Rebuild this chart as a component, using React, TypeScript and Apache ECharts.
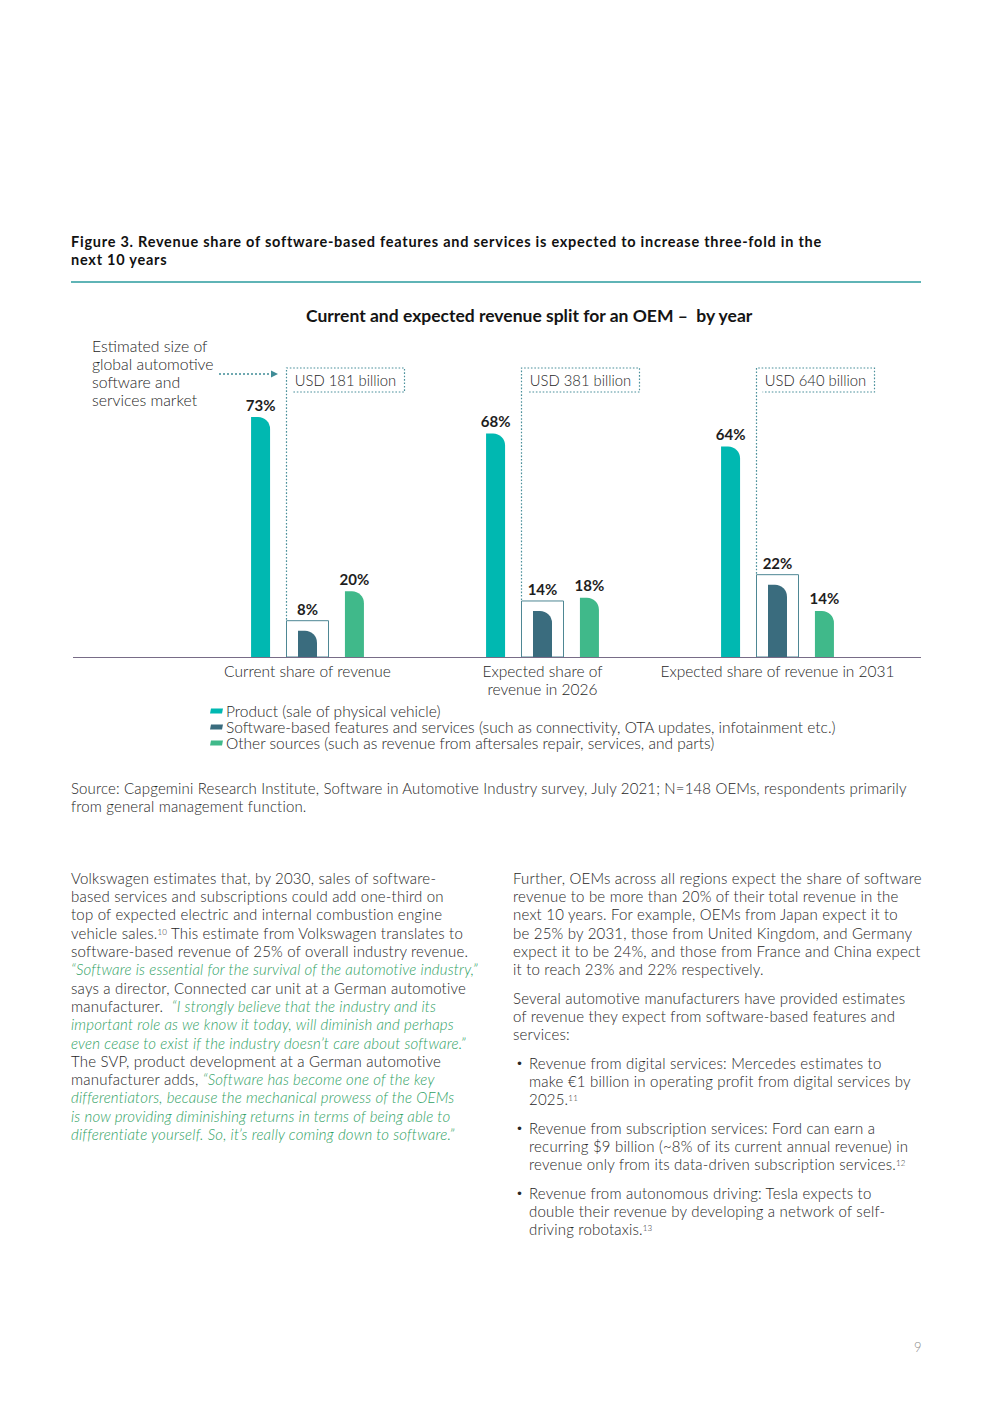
import React, { useEffect, useRef } from "react";
import * as echarts from "echarts";

const categories = [
  "Current share of revenue",
  "Expected share of\nrevenue in 2026",
  "Expected share of revenue in 2031",
];
const productShare = [73, 68, 64];
const softwareShare = [8, 14, 22];
const otherShare = [20, 18, 14];
const marketSizeUSDbn = [181, 381, 640];
const seriesNames = [
  "Product (sale of physical vehicle)",
  "Software-based features and services (such as connectivity, OTA updates, infotainment etc.)",
  "Other sources (such as revenue from aftersales repair, services, and parts)",
];
const seriesColors = ["#00b8b1", "#3a6c7e", "#40b98a"];
const annotationLines = [
  "Estimated size of",
  "global automotive",
  "software and",
  "services market",
];

const FONT = "Lato, 'Noto Sans', sans-serif";
const TEXT = "#262626";
const GREEN = "#2f9f64";

const leftLines: Array<Array<{ t: string; q?: boolean; sup?: string }>> = [
  [{ t: "Volkswagen estimates that, by 2030, sales of software-" }],
  [{ t: "based services and subscriptions could add one-third on" }],
  [{ t: "top of expected electric and internal combustion engine" }],
  [{ t: "vehicle sales.", sup: "10" }, { t: " This estimate from Volkswagen translates to" }],
  [{ t: "software-based revenue of 25% of overall industry revenue." }],
  [{ t: "\u201cSoftware is essential for the survival of the automotive industry,\u201d", q: true }],
  [{ t: "says a director, Connected car unit at a German automotive" }],
  [{ t: "manufacturer.  " }, { t: "\u201cI strongly believe that the industry and its", q: true }],
  [{ t: "important role as we know it today, will diminish and perhaps", q: true }],
  [{ t: "even cease to exist if the industry doesn\u2019t care about software.\u201d", q: true }],
  [{ t: "The SVP, product development at a German automotive" }],
  [{ t: "manufacturer adds, " }, { t: "\u201cSoftware has become one of the key", q: true }],
  [{ t: "differentiators, because the mechanical prowess of the OEMs", q: true }],
  [{ t: "is now providing diminishing returns in terms of being able to", q: true }],
  [{ t: "differentiate yourself. So, it\u2019s really coming down to software.\u201d", q: true }],
];

const rightPara1 = [
  "Further, OEMs across all regions expect the share of software",
  "revenue to be more than 20% of their total revenue in the",
  "next 10 years. For example, OEMs from Japan expect it to",
  "be 25% by 2031, those from United Kingdom, and Germany",
  "expect it to be 24%, and those from France and China expect",
  "it to reach 23% and 22% respectively.",
];
const rightPara2 = [
  "Several automotive manufacturers have provided estimates",
  "of revenue they expect from software-based features and",
  "services:",
];
const bullets: Array<{ lines: string[]; sup: string; top: number }> = [
  {
    lines: [
      "Revenue from digital services: Mercedes estimates to",
      "make \u20ac1 billion in operating profit from digital services by",
      "2025.",
    ],
    sup: "11",
    top: 1063,
  },
  {
    lines: [
      "Revenue from subscription services: Ford can earn a",
      "recurring $9 billion (~8% of its current annual revenue) in",
      "revenue only from its data-driven subscription services.",
    ],
    sup: "12",
    top: 1128,
  },
  {
    lines: [
      "Revenue from autonomous driving: Tesla expects to",
      "double their revenue by developing a network of self-",
      "driving robotaxis.",
    ],
    sup: "13",
    top: 1193,
  },
];

const LH = 18.3;
const FS = 15;
const LS = "0.2px";

function Lines({
  lines,
  left,
  centerTop,
}: {
  lines: Array<Array<{ t: string; q?: boolean; sup?: string }>>;
  left: number;
  centerTop: number;
}) {
  return (
    <div
      style={{
        position: "absolute",
        left,
        top: centerTop - LH / 2,
        fontFamily: FONT,
        fontWeight: 300,
        fontSize: FS,
        letterSpacing: LS,
        lineHeight: LH + "px",
        color: TEXT,
        whiteSpace: "pre",
      }}
    >
      {lines.map((ln, i) => (
        <div key={i} style={{ height: LH }}>
          {ln.map((s, j) => (
            <span
              key={j}
              style={s.q ? { color: GREEN, fontStyle: "italic" } : undefined}
            >
              {s.t}
              {s.sup ? (
                <sup style={{ fontSize: 8, lineHeight: 0, verticalAlign: "4px" }}>{s.sup}</sup>
              ) : null}
            </span>
          ))}
        </div>
      ))}
    </div>
  );
}

const plain = (arr: string[]) => arr.map((t) => [{ t }]);

export default function App() {
  const ref = useRef<HTMLDivElement>(null);

  useEffect(() => {
    if (!ref.current) return;
    const chart = echarts.init(ref.current, undefined, { renderer: "svg" });
    const labelBase = {
      show: true,
      position: "top" as const,
      formatter: "{c}%",
      fontSize: 15,
      fontWeight: "bold" as const,
      fontFamily: FONT,
      color: "#1e1e1e",
    };
    const option: any = {
      animation: false,
      title: {
        text: "Current and expected revenue split for an OEM \u2013  by year",
        left: 301,
        top: 301,
        textStyle: { fontSize: 17.5, fontWeight: "bold", fontFamily: FONT, color: "#141414" },
      },
      legend: {
        orient: "vertical",
        left: 205,
        top: 698,
        itemGap: 0,
        itemWidth: 13,
        itemHeight: 5,
        icon: "path://M1,0 L13,0 L12,5 L0,5 Z",
        data: seriesNames,
        selectedMode: false,
        textStyle: {
          fontSize: 15.5,
          lineHeight: 15,
          fontFamily: FONT,
          fontWeight: 300,
          color: TEXT,
          padding: [0, 0, 0, -2],
        },
      },
      grid: { left: 190, right: 97, top: 394, bottom: 746 },
      xAxis: {
        type: "category",
        data: categories,
        axisLine: { show: false },
        axisTick: { show: false },
        axisLabel: {
          margin: 5,
          fontSize: 15.5,
          lineHeight: 18,
          fontFamily: FONT,
          fontWeight: 300,
          color: TEXT,
          interval: 0,
        },
      },
      yAxis: {
        type: "value",
        min: 0,
        max: 80,
        show: false,
        splitLine: { show: false },
      },
      graphic: [
        {
          type: "line",
          shape: { x1: 73, y1: 657.5, x2: 921, y2: 657.5 },
          style: { stroke: "#786c87", lineWidth: 1 },
          z: 10,
        },
        {
          type: "line",
          shape: { x1: 219, y1: 374, x2: 272, y2: 374 },
          style: { stroke: "#3f8c97", lineWidth: 1.3, lineDash: [2, 2] },
        },
        {
          type: "polygon",
          shape: { points: [[271, 370.5], [278, 374], [271, 377.5]] },
          style: { fill: "#3f8c97" },
        },
        ...annotationLines.map((t, i) => ({
          type: "text",
          x: 92,
          y: 345 + i * 18,
          style: {
            text: t,
            fontSize: 15.8,
            fontFamily: FONT,
            fontWeight: 300,
            fill: TEXT,
            verticalAlign: "middle",
          },
        })),
      ],
      series: [
        {
          name: seriesNames[0],
          type: "bar",
          data: productShare,
          barWidth: 19,
          barGap: "147%",
          itemStyle: { color: seriesColors[0], borderRadius: [0, 12, 0, 0] },
          label: { ...labelBase, distance: 5 },
        },
        {
          name: seriesNames[1],
          type: "bar",
          data: softwareShare,
          barWidth: 19,
          barGap: "147%",
          itemStyle: { color: seriesColors[1], borderRadius: [0, 12, 0, 0] },
          label: { ...labelBase, distance: 14 },
        },
        {
          name: seriesNames[2],
          type: "bar",
          data: otherShare,
          barWidth: 19,
          barGap: "147%",
          itemStyle: { color: seriesColors[2], borderRadius: [0, 12, 0, 0] },
          label: { ...labelBase, distance: 5 },
        },
        {
          name: "marketSize",
          type: "custom",
          data: softwareShare.map((v, i) => [i, v, marketSizeUSDbn[i]]),
          z: 1,
          renderItem: (params: any, api: any) => {
            const i = api.value(0);
            const v = api.value(1);
            const size = api.value(2);
            const base = api.coord([i, 0]);
            const top = api.coord([i, v]);
            const cx = base[0];
            const boxLeft = cx - 21;
            const boxTop = top[1] - 10;
            const labTop = params.coordSys.y - 26;
            const labRight = boxLeft + 118;
            return {
              type: "group",
              children: [
                {
                  type: "rect",
                  shape: { x: boxLeft, y: boxTop, width: 42, height: base[1] - boxTop },
                  style: { fill: "none", stroke: "#4e8794", lineWidth: 1 },
                },
                {
                  type: "polyline",
                  shape: {
                    points: [
                      [boxLeft, boxTop - 1],
                      [boxLeft, labTop],
                      [labRight, labTop],
                      [labRight, labTop + 24],
                      [boxLeft + 6, labTop + 24],
                    ],
                  },
                  style: { fill: "none", stroke: "#4b909b", lineWidth: 1.2, lineDash: [1.6, 1.8] },
                },
                {
                  type: "text",
                  x: boxLeft + 59,
                  y: labTop + 12,
                  style: {
                    text: "USD " + size + " billion",
                    fontSize: 14.8,
                    fontFamily: FONT,
                    fontWeight: 300,
                    fill: TEXT,
                    align: "center",
                    verticalAlign: "middle",
                  },
                },
              ],
            };
          },
        },
      ],
    };
    chart.setOption(option);
    return () => chart.dispose();
  }, []);

  return (
    <div
      style={{
        position: "absolute",
        left: 0,
        top: 0,
        width: 992,
        height: 1403,
        background: "#fff",
        overflow: "hidden",
      }}
    >
      <div
        style={{
          position: "absolute",
          left: 71,
          top: 233,
          fontFamily: FONT,
          fontWeight: 700,
          fontSize: 14.5,
          letterSpacing: "0.75px",
          lineHeight: "18px",
          color: "#111",
          whiteSpace: "pre",
        }}
      >
        {"Figure 3. Revenue share of software-based features and services is expected to increase three-fold in the\nnext 10 years"}
      </div>
      <div
        style={{
          position: "absolute",
          left: 71,
          top: 281,
          width: 850,
          height: 1.5,
          background: "#5fb4b6",
        }}
      />
      <div ref={ref} style={{ position: "absolute", left: 0, top: 0, width: 992, height: 1403 }} />
      <div
        style={{
          position: "absolute",
          left: 71,
          top: 779,
          fontFamily: FONT,
          fontWeight: 300,
          fontSize: 15,
          letterSpacing: "0.15px",
          lineHeight: "18px",
          color: TEXT,
          whiteSpace: "pre",
        }}
      >
        {"Source: Capgemini Research Institute, Software in Automotive Industry survey, July 2021; N=148 OEMs, respondents primarily\nfrom general management function."}
      </div>
      <Lines lines={leftLines} left={71} centerTop={878} />
      <Lines lines={plain(rightPara1)} left={513} centerTop={878} />
      <Lines lines={plain(rightPara2)} left={513} centerTop={998} />
      {bullets.map((b, k) => (
        <React.Fragment key={k}>
          <div
            style={{
              position: "absolute",
              left: 516,
              top: b.top - LH / 2,
              fontFamily: FONT,
              fontWeight: 300,
              fontSize: 12,
              lineHeight: LH + "px",
              color: TEXT,
            }}
          >
            {"\u2022"}
          </div>
          <Lines
            lines={b.lines.map((t, i) =>
              i === b.lines.length - 1 ? [{ t, sup: b.sup }] : [{ t }]
            )}
            left={529}
            centerTop={b.top}
          />
        </React.Fragment>
      ))}
      <div
        style={{
          position: "absolute",
          left: 914,
          top: 1339,
          fontFamily: FONT,
          fontWeight: 300,
          fontSize: 13,
          color: "#8a8a8a",
        }}
      >
        9
      </div>
    </div>
  );
}
